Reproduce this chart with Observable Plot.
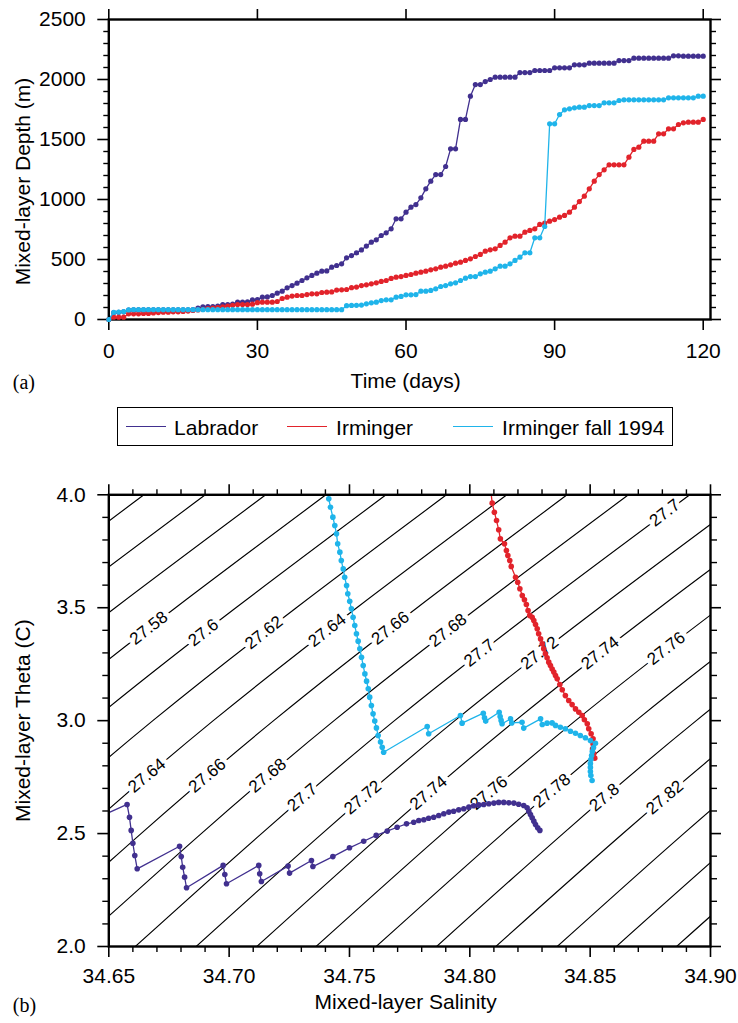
<!DOCTYPE html>
<html>
<head>
<meta charset="utf-8">
<script src="https://cdn.jsdelivr.net/npm/d3@7"></script>
<script src="https://cdn.jsdelivr.net/npm/@observablehq/plot@0.6"></script>
<style>
  html, body { margin: 0; padding: 0; background: #ffffff; }
  #page { position: relative; width: 738px; height: 1023px; overflow: hidden; font-family: "Liberation Sans", Arial, Helvetica, sans-serif; color: #000; background: #fff; }
  #panelA { position: absolute; left: 0; top: 0; }
  #panelB { position: absolute; left: 0; top: 450px; }
  #legend { position: absolute; left: 116.6px; top: 407.3px; width: 556.8px; height: 38.7px; border: 1.3px solid #000; box-sizing: border-box; }
  #legend .sw { position: absolute; top: 50%; height: 0; border-top: 1.5px solid; width: 40px; margin-top: -0.75px; }
  #legend .lb { position: absolute; top: 50%; transform: translateY(-50%); font-size: 21px; line-height: 1; white-space: nowrap; }
</style>
</head>
<body>
<div id="page">
  <div id="panelA"></div>
  <div id="legend"></div>
  <div id="panelB"></div>
</div>
<script>
// ---------------- DATA ----------------
// (a) mixed-layer depth (m), one value per day
const days = Array.from({length: 121}, (_, i) => i);
const dayTicks = [0, 30, 60, 90, 120];
const depthMajorTicks = [0, 500, 1000, 1500, 2000, 2500];
const depthMinorTicks = [100, 200, 300, 400, 600, 700, 800, 900, 1100, 1200, 1300, 1400,
  1600, 1700, 1800, 1900, 2100, 2200, 2300, 2400];

const labradorDepth = [
  0, 58, 60, 64, 78, 80, 80, 80, 80, 80,
  80, 80, 80, 80, 80, 80, 80, 82, 95, 105,
  108, 108, 112, 125, 125, 128, 145, 145, 148, 163,
  166, 186, 188, 200, 219, 236, 264, 283, 303, 325,
  347, 367, 386, 403, 405, 436, 450, 464, 514, 533,
  555, 580, 612, 644, 664, 700, 722, 756, 839, 839,
  894, 936, 958, 1014, 1089, 1153, 1208, 1208, 1275, 1422,
  1422, 1667, 1667, 1861, 1958, 1958, 1983, 2000, 2019, 2019,
  2019, 2019, 2019, 2058, 2058, 2058, 2075, 2075, 2075, 2075,
  2097, 2097, 2097, 2097, 2122, 2122, 2122, 2136, 2136, 2136,
  2136, 2136, 2136, 2158, 2158, 2158, 2178, 2178, 2178, 2178,
  2178, 2178, 2178, 2178, 2197, 2197, 2194, 2194, 2194, 2194,
  2194];
const irmingerDepth = [
  0, 19, 19, 19, 47, 47, 47, 50, 50, 55,
  58, 61, 61, 64, 64, 67, 70, 75, 80, 85,
  90, 95, 100, 105, 112, 118, 125, 125, 125, 128,
  140, 144, 144, 144, 150, 175, 186, 195, 200, 200,
  208, 214, 214, 225, 228, 230, 245, 247, 250, 265,
  270, 283, 289, 297, 306, 317, 325, 342, 353, 358,
  367, 375, 386, 394, 403, 414, 422, 436, 444, 456,
  469, 478, 492, 506, 525, 542, 569, 581, 589, 617,
  644, 681, 694, 694, 728, 742, 756, 792, 803, 819,
  833, 853, 867, 894, 936, 983, 1028, 1089, 1153, 1208,
  1247, 1289, 1289, 1289, 1289, 1353, 1417, 1436, 1486, 1486,
  1486, 1547, 1547, 1589, 1589, 1625, 1639, 1644, 1644, 1644,
  1667];
const fallDepth = [
  0, 60, 62, 66, 80, 82, 82, 82, 82, 82,
  82, 82, 82, 82, 82, 82, 82, 82, 82, 82,
  82, 82, 82, 82, 82, 82, 82, 82, 82, 82,
  82, 82, 82, 82, 82, 82, 82, 82, 82, 82,
  82, 82, 82, 82, 82, 82, 82, 82, 115, 117,
  118, 120, 131, 139, 144, 158, 164, 164, 186, 192,
  206, 206, 208, 236, 236, 242, 256, 275, 283, 297,
  306, 325, 344, 358, 358, 381, 394, 403, 422, 444,
  444, 464, 492, 519, 556, 556, 681, 681, 775, 1631,
  1631, 1708, 1747, 1756, 1764, 1769, 1769, 1783, 1783, 1783,
  1806, 1806, 1806, 1825, 1831, 1831, 1831, 1831, 1831, 1831,
  1831, 1831, 1831, 1847, 1847, 1847, 1847, 1847, 1847, 1861,
  1861];

// (b) theta-salinity trajectories
const labS = [34.6465, 34.6576, 34.6586, 34.6593, 34.6600, 34.6608, 34.6618, 34.6794, 34.6801, 34.6807,
  34.6815, 34.6823, 34.6975, 34.6982, 34.6989, 34.7123, 34.7127, 34.7134, 34.7245, 34.7251,
  34.7342, 34.7348, 34.7431, 34.7500, 34.7559, 34.7611, 34.7657, 34.7698, 34.7737, 34.7767,
  34.7788, 34.7809, 34.7829, 34.7850, 34.7871, 34.7892, 34.7913, 34.7933, 34.7954, 34.7975,
  34.7996, 34.8016, 34.8037, 34.8058, 34.8079, 34.8100, 34.8120, 34.8141, 34.8162, 34.8183,
  34.8203, 34.8224, 34.8238, 34.8245, 34.8252, 34.8259, 34.8266, 34.8273, 34.8282, 34.8291];
const labT = [2.576, 2.629, 2.572, 2.514, 2.457, 2.403, 2.344, 2.444, 2.398, 2.351,
  2.307, 2.260, 2.359, 2.319, 2.278, 2.359, 2.322, 2.288, 2.356, 2.325,
  2.381, 2.354, 2.398, 2.437, 2.466, 2.492, 2.511, 2.528, 2.543, 2.550,
  2.558, 2.561, 2.568, 2.572, 2.580, 2.588, 2.595, 2.599, 2.605, 2.610,
  2.617, 2.623, 2.627, 2.629, 2.632, 2.635, 2.638, 2.638, 2.636, 2.635,
  2.630, 2.624, 2.614, 2.599, 2.584, 2.570, 2.555, 2.540, 2.526, 2.514];

const irmS = [34.8088, 34.8093, 34.8102, 34.8111, 34.8120, 34.8127, 34.8144, 34.8152, 34.8158, 34.8166,
  34.8172, 34.8190, 34.8199, 34.8208, 34.8218, 34.8227, 34.8235, 34.8242, 34.8249, 34.8259,
  34.8266, 34.8273, 34.8280, 34.8286, 34.8294, 34.8301, 34.8307, 34.8314, 34.8321, 34.8328,
  34.8335, 34.8342, 34.8349, 34.8356, 34.8363, 34.8374, 34.8384, 34.8397, 34.8411, 34.8425,
  34.8439, 34.8453, 34.8467, 34.8476, 34.8488, 34.8494, 34.8504, 34.8512, 34.8512, 34.8510,
  34.8515, 34.8519];
const irmT = [4.010, 3.963, 3.923, 3.886, 3.845, 3.805, 3.783, 3.753, 3.731, 3.709,
  3.683, 3.635, 3.613, 3.584, 3.554, 3.535, 3.514, 3.488, 3.466, 3.458,
  3.443, 3.426, 3.407, 3.385, 3.362, 3.340, 3.318, 3.296, 3.278, 3.259,
  3.244, 3.229, 3.215, 3.200, 3.185, 3.160, 3.137, 3.111, 3.089, 3.071,
  3.052, 3.037, 3.023, 3.004, 2.986, 2.964, 2.942, 2.920, 2.897, 2.875,
  2.853, 2.834];

const fallS = [34.7411, 34.7414, 34.7421, 34.7431, 34.7439, 34.7446, 34.7451, 34.7460, 34.7466, 34.7474,
  34.7480, 34.7488, 34.7493, 34.7501, 34.7508, 34.7515, 34.7522, 34.7529, 34.7536, 34.7543,
  34.7550, 34.7557, 34.7564, 34.7571, 34.7578, 34.7584, 34.7591, 34.7598, 34.7605, 34.7612,
  34.7619, 34.7629, 34.7636, 34.7642, 34.7823, 34.7829, 34.7961, 34.7968, 34.8056, 34.8061,
  34.8066, 34.8122, 34.8126, 34.8130, 34.8134, 34.8169, 34.8174, 34.8217, 34.8224, 34.8294,
  34.8301, 34.8321, 34.8342, 34.8356, 34.8376, 34.8397, 34.8418, 34.8439, 34.8459, 34.8480,
  34.8501, 34.8522, 34.8514, 34.8509, 34.8506, 34.8503, 34.8501, 34.8501, 34.8501, 34.8503,
  34.8508];
const fallT = [4.010, 3.982, 3.945, 3.901, 3.864, 3.827, 3.783, 3.746, 3.709, 3.672,
  3.635, 3.598, 3.562, 3.529, 3.495, 3.458, 3.421, 3.385, 3.352, 3.318,
  3.281, 3.244, 3.207, 3.175, 3.141, 3.104, 3.067, 3.030, 2.998, 2.968,
  2.934, 2.905, 2.882, 2.860, 2.974, 2.942, 3.023, 2.989, 3.033, 3.013,
  2.998, 3.037, 3.018, 3.001, 2.986, 3.008, 2.990, 2.993, 2.967, 3.008,
  2.983, 2.989, 2.990, 2.979, 2.971, 2.964, 2.953, 2.944, 2.934, 2.924,
  2.912, 2.900, 2.881, 2.863, 2.846, 2.828, 2.810, 2.793, 2.775, 2.757,
  2.735];

// isopycnals (sigma-theta): salinity where each line crosses theta = 2, 3, 4 C
const isoThetaRef = [2, 3, 4];
const isoLevels = [27.52, 27.54, 27.56, 27.58, 27.60, 27.62, 27.64, 27.66, 27.68, 27.70,
  27.72, 27.74, 27.76, 27.78, 27.80, 27.82, 27.84, 27.86, 27.88];
const isoSAtTheta2 = [34.4361, 34.4611, 34.4861, 34.5111, 34.5361, 34.5611, 34.5860, 34.6110, 34.6360, 34.6610,
  34.6863, 34.7115, 34.7361, 34.7611, 34.7862, 34.8108, 34.8363, 34.8609, 34.8859];
const isoSAtTheta3 = [34.5428, 34.5679, 34.5930, 34.6181, 34.6432, 34.6683, 34.6934, 34.7185, 34.7436, 34.7687,
  34.7938, 34.8189, 34.8439, 34.8690, 34.8941, 34.9192, 34.9443, 34.9694, 34.9945];
const isoSAtTheta4 = [34.6646, 34.6901, 34.7152, 34.7402, 34.7652, 34.7903, 34.8154, 34.8404, 34.8659, 34.8914,
  34.9166, 34.9417, 34.9669, 34.9921, 35.0173, 35.0425, 35.0677, 35.0929, 35.1181];

// contour labels
const upperLabelText = ["27.58", "27.6", "27.62", "27.64", "27.66", "27.68", "27.7", "27.72", "27.74", "27.76", "27.7"];
const upperLabelS = [34.6666, 34.6893, 34.7144, 34.7407, 34.7670, 34.7909, 34.8039, 34.8290, 34.8541, 34.8816, 34.8810];
const upperLabelT = [3.41, 3.39, 3.39, 3.40, 3.41, 3.40, 3.30, 3.30, 3.30, 3.32, 3.92];
const lowerLabelText = ["27.64", "27.66", "27.68", "27.7", "27.72", "27.74", "27.76", "27.78", "27.8", "27.82"];
const lowerLabelS = [34.6658, 34.6909, 34.7160, 34.7304, 34.7555, 34.7828, 34.8079, 34.8341, 34.8559, 34.8810];
const lowerLabelT = [2.757, 2.757, 2.757, 2.66, 2.66, 2.68, 2.68, 2.69, 2.66, 2.66];

const salinityMajorTicks = [34.65, 34.70, 34.75, 34.80, 34.85, 34.90];
const salinityMinorTicks = [34.66, 34.67, 34.68, 34.69, 34.71, 34.72, 34.73, 34.74, 34.76, 34.77,
  34.78, 34.79, 34.81, 34.82, 34.83, 34.84, 34.86, 34.87, 34.88, 34.89];
const thetaMajorTicks = [2.0, 2.5, 3.0, 3.5, 4.0];
const thetaMinorTicks = [2.1, 2.2, 2.3, 2.4, 2.6, 2.7, 2.8, 2.9, 3.1, 3.2, 3.3, 3.4, 3.6, 3.7, 3.8, 3.9];

const seriesNames = ["Labrador", "Irminger", "Irminger fall 1994"];

// ---------------- STYLE ----------------
const COLORS = ["#41308f", "#e2232b", "#1fb4ea"];
const FONT = "'Liberation Sans', Arial, Helvetica, sans-serif";
const SERIF = "'Liberation Serif', 'Times New Roman', serif";
const blank = () => "";

// ---------------- PANEL (a) ----------------
const depthRows = days.map((d, i) => ({day: d, lab: labradorDepth[i], irm: irmingerDepth[i], fall: fallDepth[i]}));
const depthKeys = ["lab", "irm", "fall"];

const dataMarksA = [];
depthKeys.forEach((k, j) => {
  dataMarksA.push(Plot.line(depthRows, {x: "day", y: k, stroke: COLORS[j], strokeWidth: 1.3}));
  dataMarksA.push(Plot.dot(depthRows, {x: "day", y: k, r: 2.6, fill: COLORS[j]}));
});

const panelA = Plot.plot({
  width: 738, height: 400,
  marginLeft: 108.3, marginRight: 28, marginTop: 19, marginBottom: 81,
  style: {fontFamily: FONT, fontSize: "21px", background: "transparent", color: "black", overflow: "visible"},
  x: {domain: [0, 121.47]},
  y: {domain: [0, 2500]},
  marks: [
    Plot.axisX({anchor: "bottom", ticks: dayTicks, tickSize: 11, tickPadding: 13, tickFormat: d3.format("d"), label: null, strokeWidth: 1.6, fontSize: 21}),
    Plot.axisX({anchor: "top", ticks: dayTicks, tickSize: 11, tickFormat: blank, label: null, strokeWidth: 1.6}),
    Plot.axisY({anchor: "left", ticks: depthMajorTicks, tickSize: 11, tickPadding: 12, tickFormat: d3.format("d"), label: null, strokeWidth: 1.6, fontSize: 21}),
    Plot.axisY({anchor: "left", ticks: depthMinorTicks, tickSize: 5, tickFormat: blank, label: null, strokeWidth: 1.4}),
    Plot.axisY({anchor: "right", ticks: depthMajorTicks, tickSize: 10, tickFormat: blank, label: null, strokeWidth: 1.6}),
    Plot.axisY({anchor: "right", ticks: depthMinorTicks, tickSize: 5, tickFormat: blank, label: null, strokeWidth: 1.4}),
    Plot.frame({strokeWidth: 2.4}),
    ...dataMarksA,
    Plot.text(["Mixed-layer Depth (m)"], {frameAnchor: "left", text: d => d, rotate: -90, textAnchor: "middle", lineAnchor: "middle", dx: -86, dy: 12, fontSize: 21}),
    Plot.text(["Time (days)"], {frameAnchor: "bottom", text: d => d, textAnchor: "middle", lineAnchor: "middle", dx: -4, dy: 62, fontSize: 21}),
    Plot.text(["(a)"], {frameAnchor: "bottom-left", text: d => d, dx: -96, dy: 63, textAnchor: "start", lineAnchor: "middle", fontSize: 20, fontFamily: SERIF})
  ]
});
document.getElementById("panelA").appendChild(panelA);

// ---------------- LEGEND ----------------
const legendSwatchLeft = [8, 169, 335];
const legendTextLeft = [56.5, 218.5, 384.5];
const legend = document.getElementById("legend");
seriesNames.forEach((name, j) => {
  const sw = document.createElement("span");
  sw.className = "sw";
  sw.style.left = legendSwatchLeft[j] + "px";
  sw.style.borderTopColor = COLORS[j];
  legend.appendChild(sw);
  const lb = document.createElement("span");
  lb.className = "lb";
  lb.style.left = legendTextLeft[j] + "px";
  lb.textContent = name;
  legend.appendChild(lb);
});

// ---------------- PANEL (b) ----------------
const isoRows = [];
isoLevels.forEach((lev, k) => {
  const sVals = [isoSAtTheta2[k], isoSAtTheta3[k], isoSAtTheta4[k]];
  isoThetaRef.forEach((t, m) => isoRows.push({level: lev, S: sVals[m], T: t}));
});
const upperLabels = upperLabelText.map((t, i) => ({label: t, S: upperLabelS[i], T: upperLabelT[i]}));
const lowerLabels = lowerLabelText.map((t, i) => ({label: t, S: lowerLabelS[i], T: lowerLabelT[i]}));
const tsSeries = [[labS, labT], [irmS, irmT], [fallS, fallT]].map(([s, t]) => s.map((v, i) => ({S: v, T: t[i]})));

const dataMarksB = [];
tsSeries.forEach((rows, j) => {
  dataMarksB.push(Plot.line(rows, {x: "S", y: "T", stroke: COLORS[j], strokeWidth: 1.3, clip: true}));
  dataMarksB.push(Plot.dot(rows, {x: "S", y: "T", r: 2.8, fill: COLORS[j], clip: true}));
});

const labelStyle = {x: "S", y: "T", text: "label", fontSize: 17, fill: "black", stroke: "white", strokeWidth: 9, strokeLinejoin: "round", clip: true};

const panelB = Plot.plot({
  width: 738, height: 573,
  marginLeft: 108.3, marginRight: 28, marginTop: 44.3, marginBottom: 77,
  style: {fontFamily: FONT, fontSize: "21px", background: "transparent", color: "black", overflow: "visible"},
  x: {domain: [34.65, 34.90]},
  y: {domain: [2, 4]},
  marks: [
    Plot.line(isoRows, {x: "S", y: "T", z: "level", curve: "natural", stroke: "black", strokeWidth: 1.15, clip: true}),
    Plot.text(upperLabels, {...labelStyle, rotate: -38}),
    Plot.text(lowerLabels, {...labelStyle, rotate: -40}),
    ...dataMarksB,
    Plot.frame({strokeWidth: 2.4}),
    Plot.axisX({anchor: "bottom", ticks: salinityMajorTicks, tickSize: 11, tickPadding: 11, tickFormat: d3.format(".2f"), label: null, strokeWidth: 1.6, fontSize: 21}),
    Plot.axisX({anchor: "bottom", ticks: salinityMinorTicks, tickSize: 6, tickFormat: blank, label: null, strokeWidth: 1.4}),
    Plot.axisX({anchor: "top", ticks: salinityMajorTicks, tickSize: 11, tickFormat: blank, label: null, strokeWidth: 1.6}),
    Plot.axisX({anchor: "top", ticks: salinityMinorTicks, tickSize: 6, tickFormat: blank, label: null, strokeWidth: 1.4}),
    Plot.axisY({anchor: "left", ticks: thetaMajorTicks, tickSize: 11, tickPadding: 12, tickFormat: d3.format(".1f"), label: null, strokeWidth: 1.6, fontSize: 21}),
    Plot.axisY({anchor: "left", ticks: thetaMinorTicks, tickSize: 6, tickFormat: blank, label: null, strokeWidth: 1.4}),
    Plot.axisY({anchor: "right", ticks: thetaMajorTicks, tickSize: 10, tickFormat: blank, label: null, strokeWidth: 1.6}),
    Plot.axisY({anchor: "right", ticks: thetaMinorTicks, tickSize: 6, tickFormat: blank, label: null, strokeWidth: 1.4}),
    Plot.text(["Mixed-layer Theta (C)"], {frameAnchor: "left", text: d => d, rotate: -90, textAnchor: "middle", lineAnchor: "middle", dx: -86, dy: 0, fontSize: 21}),
    Plot.text(["Mixed-layer Salinity"], {frameAnchor: "bottom", text: d => d, textAnchor: "middle", lineAnchor: "middle", dx: -4, dy: 56, fontSize: 21}),
    Plot.text(["(b)"], {frameAnchor: "bottom-left", text: d => d, dx: -96, dy: 59, textAnchor: "start", lineAnchor: "middle", fontSize: 20, fontFamily: SERIF})
  ]
});
document.getElementById("panelB").appendChild(panelB);
</script>
</body>
</html>
